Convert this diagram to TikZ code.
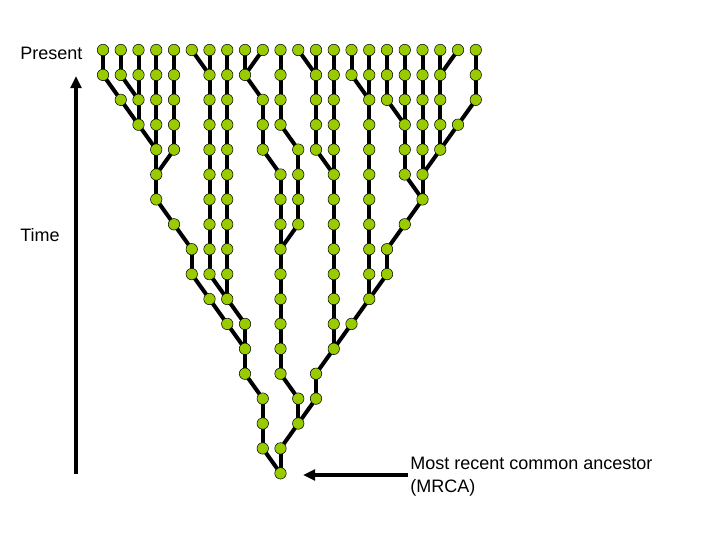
\documentclass[tikz,border=0pt]{standalone}
\usepackage{fontspec}
\setmainfont{Liberation Sans}
\usetikzlibrary{arrows.meta}
\definecolor{leaf}{RGB}{153,204,0}
\pgfdeclarelayer{background}
\pgfsetlayers{background,main}
\begin{document}
\begin{tikzpicture}[x=0.75pt,y=-0.75pt,
  gnode/.style={circle,fill=leaf,draw=black,line width=0.4pt,minimum size=8.6pt,inner sep=0pt},
  link/.style={line width=3pt,black},
  axisarrow/.style={line width=2.4pt,black,-{Triangle[width=8pt,length=9pt]}},
  lbl/.style={font=\fontsize{13.5}{17.25}\selectfont,inner sep=0pt,align=left}]
\useasboundingbox (0,0) rectangle (720,540);
% genealogy nodes
\foreach \r/\cols in {
  0/{0,1,2,3,4,5,6,7,8,9,10,11,12,13,14,15,16,17,18,19,20,21},
  1/{0,1,2,3,4,6,7,8,10,12,13,14,15,16,17,18,19,21},
  2/{1,2,3,4,6,7,9,10,12,13,15,16,17,18,19,21},
  3/{2,3,4,6,7,9,10,12,13,15,17,18,19,20},
  4/{3,4,6,7,9,11,12,13,15,17,18,19},
  5/{3,6,7,10,11,13,15,17,18},
  6/{3,6,7,10,11,13,15,18},
  7/{4,6,7,10,11,13,15,17},
  8/{5,6,7,10,13,15,16},
  9/{5,6,7,10,13,15,16},
  10/{6,7,10,13,15},
  11/{7,8,10,13,14},
  12/{8,10,13},
  13/{8,10,12},
  14/{9,11,12},
  15/{9,11},
  16/{9,10},
  17/{10}}{
  \foreach \c in \cols {
    \node[gnode] (n\r-\c) at ({103+\c*17.75},{50+\r*24.9}) {};
  }
}
% parent links
\begin{pgfonlayer}{background}
\foreach \r/\a/\b in {
  0/0/0,0/1/1,0/2/2,0/3/3,0/4/4,0/5/6,0/6/6,0/7/7,0/8/8,0/9/8,0/10/10,0/11/12,0/12/12,0/13/13,0/14/14,0/15/15,0/16/16,0/17/17,0/18/18,0/19/19,0/20/19,0/21/21,
  1/0/1,1/1/2,1/2/2,1/3/3,1/4/4,1/6/6,1/7/7,1/8/9,1/10/10,1/12/12,1/13/13,1/14/15,1/15/15,1/16/16,1/17/17,1/18/18,1/19/19,1/21/21,
  2/1/2,2/2/2,2/3/3,2/4/4,2/6/6,2/7/7,2/9/9,2/10/10,2/12/12,2/13/13,2/15/15,2/16/17,2/17/17,2/18/18,2/19/19,2/21/20,
  3/2/3,3/3/3,3/4/4,3/6/6,3/7/7,3/9/9,3/10/11,3/12/12,3/13/13,3/15/15,3/17/17,3/18/18,3/19/19,3/20/19,
  4/3/3,4/4/3,4/6/6,4/7/7,4/9/10,4/11/11,4/12/13,4/13/13,4/15/15,4/17/17,4/18/18,4/19/18,
  5/3/3,5/6/6,5/7/7,5/10/10,5/11/11,5/13/13,5/15/15,5/17/18,5/18/18,
  6/3/4,6/6/6,6/7/7,6/10/10,6/11/11,6/13/13,6/15/15,6/18/17,
  7/4/5,7/6/6,7/7/7,7/10/10,7/11/10,7/13/13,7/15/15,7/17/16,
  8/5/5,8/6/6,8/7/7,8/10/10,8/13/13,8/15/15,8/16/16,
  9/5/6,9/6/7,9/7/7,9/10/10,9/13/13,9/15/15,9/16/15,
  10/6/7,10/7/8,10/10/10,10/13/13,10/15/14,
  11/7/8,11/8/8,11/10/10,11/13/13,11/14/13,
  12/8/8,12/10/10,12/13/12,
  13/8/9,13/10/11,13/12/12,
  14/9/9,14/11/11,14/12/11,
  15/9/9,15/11/10,
  16/9/10,16/10/10}{
  \pgfmathtruncatemacro\rr{\r+1}
  \draw[link] (n\r-\a.center) -- (n\rr-\b.center);
}
\end{pgfonlayer}
% time axis
\coordinate (axisbot) at (76,474);
\coordinate (axistop) at (76,76);
\draw[axisarrow] (axisbot) -- (axistop);
% labels
\node[lbl,anchor=west] (present) at (20,53) {Present};
\node[lbl,anchor=west] (time) at (20,235) {Time};
\node[lbl,anchor=west] (mrca) at (410,477) {Most recent common ancestor\\(MRCA)};
% MRCA pointer
\coordinate (mrcatail) at (408,475);
\coordinate (mrcatip) at (303,475);
\draw[axisarrow] (mrcatail) -- (mrcatip);
\end{tikzpicture}
\end{document}
